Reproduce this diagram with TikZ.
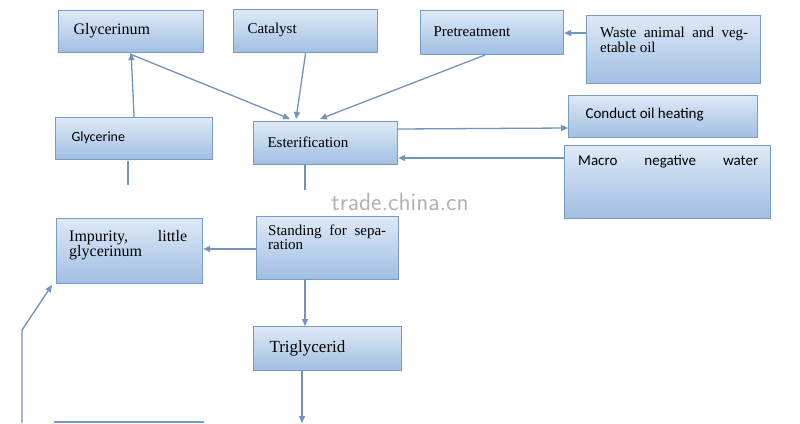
\documentclass[tikz,border=0pt]{standalone}
\usepackage{fontspec}
\setmainfont{Liberation Serif}
\newfontfamily\sfc{Carlito}
\usetikzlibrary{arrows.meta}
\definecolor{bd}{RGB}{120,155,198}
\definecolor{ln}{RGB}{112,148,190}
\begin{document}
\begin{tikzpicture}[x=1pt,y=-1pt,
  bx/.style={draw=bd,line width=1.2pt,top color={rgb,255:red,222;green,233;blue,247},bottom color={rgb,255:red,160;green,190;blue,226},
    anchor=north west,inner sep=0pt,font=\fontsize{15}{22}\selectfont},
  ar/.style={draw=ln,line width=1.3pt,-{Triangle[length=7pt,width=6pt]}},
  pl/.style={draw=ln,line width=1.3pt}]
\useasboundingbox (0,0) rectangle (800,423);
\fill[white] (0,0) rectangle (800,423);
\node[bx,minimum width=145,minimum height=42] (gm) at (58,10) {};
\node[anchor=west] at (70,31) {\fontsize{16}{20}\selectfont Glycerinum};
\node[bx,minimum width=144,minimum height=43] (ca) at (233,9) {};
\node[anchor=west] at (244,30) {\fontsize{15}{20}\selectfont Catalyst};
\node[bx,minimum width=143,minimum height=44] (pr) at (420,10) {};
\node[anchor=west] at (430,32) {\fontsize{15}{20}\selectfont Pretreatment};
\node[bx,minimum width=174,minimum height=68] (wa) at (586,15) {};
\node[anchor=north west,text width=148,align=justify,inner sep=0pt] at (600,27) {\fontsize{15}{26}\selectfont Waste animal and vegetable oil};
\node[bx,minimum width=157,minimum height=42] (gl) at (55,117) {};
\node[anchor=west] at (68,138) {\sfc\fontsize{14}{18}\selectfont Glycerine};
\node[bx,minimum width=144,minimum height=43] (es) at (253,121) {};
\node[anchor=west] at (264,142) {\fontsize{15}{20}\selectfont Esterification};
\node[bx,minimum width=189,minimum height=42] (co) at (568,95) {};
\node[anchor=west] at (582,115) {\sfc\fontsize{15}{20}\selectfont Conduct oil heating};
\node[bx,minimum width=206,minimum height=73] (ma) at (564,145) {};
\node[anchor=north west,text width=180,inner sep=0pt] at (578,155) {\sfc\fontsize{15}{20}\selectfont Macro\hfill negative\hfill water};
\node[bx,minimum width=146,minimum height=65] (im) at (56,218) {};
\node[anchor=north west,text width=118,align=justify,inner sep=0pt] at (69,230) {\fontsize{16}{26}\selectfont Impurity, little glycerinum};
\node[bx,minimum width=142,minimum height=63] (st) at (256,216) {};
\node[anchor=north west,text width=118,align=justify,inner sep=0pt] at (268,225) {\fontsize{15}{26}\selectfont Standing for separation};
\node[bx,minimum width=148,minimum height=44] (tr) at (253,326) {};
\node[anchor=west] at (266,348) {\fontsize{17}{20}\selectfont Triglycerid};
\draw[bd,line width=1.2pt] (54,422) -- (204,422);
\node[text=gray!60,font=\sffamily\fontsize{25}{28}\selectfont] at (400,202) {trade.china.cn};
\draw[ar] (gl.north) -- (gm.south);
\draw[ar] (130,54) -- (290,119);
\draw[ar] (ca.south) ++(0,0) -- (296,119);
\draw[ar] (485,55) -- (320,119);
\draw[ar] (wa.west |- 0,33) -- (pr.east |- 0,33);
\draw[ar] (es.east |- 0,129) -- (co.west |- 0,128);
\draw[ar] (ma.west |- 0,158) -- (es.east |- 0,158);
\draw[pl] (305,165) -- (305,190);
\draw[pl] (128,185) -- (128,161);
\draw[ar] (st.west |- 0,249) -- (im.east |- 0,249);
\draw[ar] (305,279) -- (tr.north -| 305,0);
\draw[ar] (302,371) -- (302,423);
\draw[ar] (22,423) -- (22,330) -- (52,285);
\end{tikzpicture}
\end{document}
